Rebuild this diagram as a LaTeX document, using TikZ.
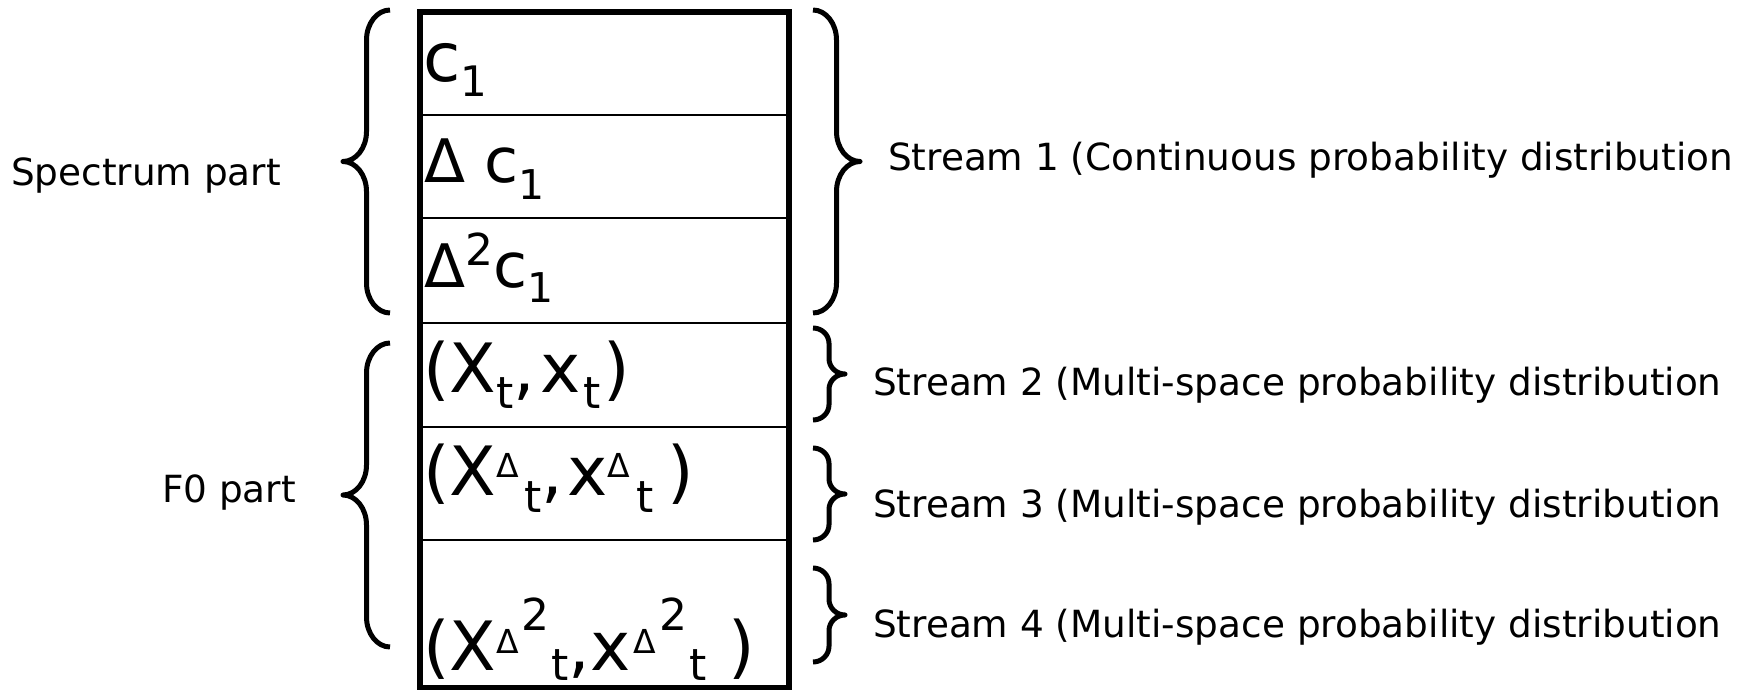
\documentclass[tikz,border=0pt]{standalone}
\usepackage{fontspec}
\setmainfont{DejaVu Sans}
% font size helper (size = leading)
\newcommand\fsz[1]{\fontsize{#1}{#1}\selectfont}
% raised / lowered pieces of a cell formula
\newcommand\txtup[3]{\raisebox{#1}{\fsz{#2}#3}}
\newcommand\txtdn[3]{\raisebox{-#1}{\fsz{#2}#3}}
% small Delta followed by subscript t
\newcommand\dsub{\txtup{9pt}{16.5}{Δ}\hspace{3pt}\txtdn{8.5pt}{22}{t}}
% small Delta squared followed by subscript t
\newcommand\ddsub{\txtup{8.5pt}{16.5}{Δ}\hspace{1.5pt}\txtup{20pt}{22}{2}\hspace{1pt}\txtdn{5pt}{22}{t}}
% curly brace: tip x, point x, top y, bottom y
\newcommand\curly[4]{%
  \pgfmathsetmacro\cbS{(#1+#2)/2}%
  \pgfmathsetmacro\cbM{(#3+#4)/2}%
  \pgfmathsetmacro\cbH{min(30,(#4-#3)/6)}%
  \pgfmathsetmacro\cbTa{#1+0.55*(\cbS-#1)}%
  \pgfmathsetmacro\cbPa{#2+0.55*(\cbS-#2)}%
  \pgfmathsetmacro\cbAa{#3+0.45*\cbH}%
  \pgfmathsetmacro\cbAb{#3+\cbH}%
  \pgfmathsetmacro\cbMa{\cbM-\cbH}%
  \pgfmathsetmacro\cbMb{\cbM-0.45*\cbH}%
  \pgfmathsetmacro\cbMc{\cbM+0.45*\cbH}%
  \pgfmathsetmacro\cbMd{\cbM+\cbH}%
  \pgfmathsetmacro\cbBa{#4-\cbH}%
  \pgfmathsetmacro\cbBb{#4-0.45*\cbH}%
  \draw[bracestroke] (#1,#3) .. controls (\cbTa,#3) and (\cbS,\cbAa) .. (\cbS,\cbAb)
    -- (\cbS,\cbMa) .. controls (\cbS,\cbMb) and (\cbPa,\cbM) .. (#2,\cbM)
    .. controls (\cbPa,\cbM) and (\cbS,\cbMc) .. (\cbS,\cbMd)
    -- (\cbS,\cbBa) .. controls (\cbS,\cbBb) and (\cbTa,#4) .. (#1,#4);%
}
\tikzset{
  bracestroke/.style={line width=2.5pt, line join=round},
  frame/.style={line width=2.6pt},
  divider/.style={line width=1.1pt},
  lbl/.style={font=\fsz{18.7}, anchor=base west, inner sep=0pt, outer sep=0pt},
  celltext/.style={anchor=base west, inner sep=0pt, outer sep=0pt},
}
\begin{document}
\begin{tikzpicture}[x=0.5pt, y=-0.5pt]
\useasboundingbox (0,0) rectangle (1758,690);

% feature vector column
\foreach \yy in {115,218,323,427,540}
  \draw[divider] (420,\yy) -- (789,\yy);
\draw[frame] (420,12) rectangle (789,688);

% cell contents
\node[celltext] (c1) at (423,82) {\fsz{34}c\txtdn{7.5pt}{21}{1}};
\node[celltext] (dc1) at (424,183) {\fsz{30}Δ\fsz{31} c\txtdn{8.5pt}{20.5}{1}};
\node[celltext] (ddc1) at (424,287) {\fsz{30}Δ\txtup{11pt}{22}{2}\fsz{31}c\txtdn{7.5pt}{20.5}{1}};
\node[celltext] (xt) at (423,392) {\fsz{34}(X\txtdn{8pt}{22}{t},\hspace{3pt}x\hspace{1pt}\txtdn{8pt}{22}{t}\hspace{1.5pt})};
\node[celltext] (dxt) at (423,495) {\fsz{34}(X\dsub,\hspace{2pt}x\dsub\hspace{7pt})};
\node[celltext] (ddxt) at (423,670) {\fsz{34}(X\ddsub,x\hspace{1.5pt}\ddsub\ )};

% left braces and part labels
\curly{390}{343}{10}{313}
\curly{390}{343}{343}{647}
\node[lbl] (spec) at (11,185) {Spectrum part};
\node[lbl] (f0) at (162,502) {F0 part};

% right braces and stream labels
\curly{813}{860}{10}{313}
\curly{813}{845}{328}{420}
\curly{813}{845}{448}{540}
\curly{813}{845}{568}{662}
\node[lbl] (s1) at (888,170) {Stream 1 (Continuous probability distribution};
\node[lbl] (s2) at (873,395) {Stream 2 (Multi-space probability distribution};
\node[lbl] (s3) at (873,517) {Stream 3 (Multi-space probability distribution};
\node[lbl] (s4) at (873,637) {Stream 4 (Multi-space probability distribution};
\end{tikzpicture}
\end{document}
